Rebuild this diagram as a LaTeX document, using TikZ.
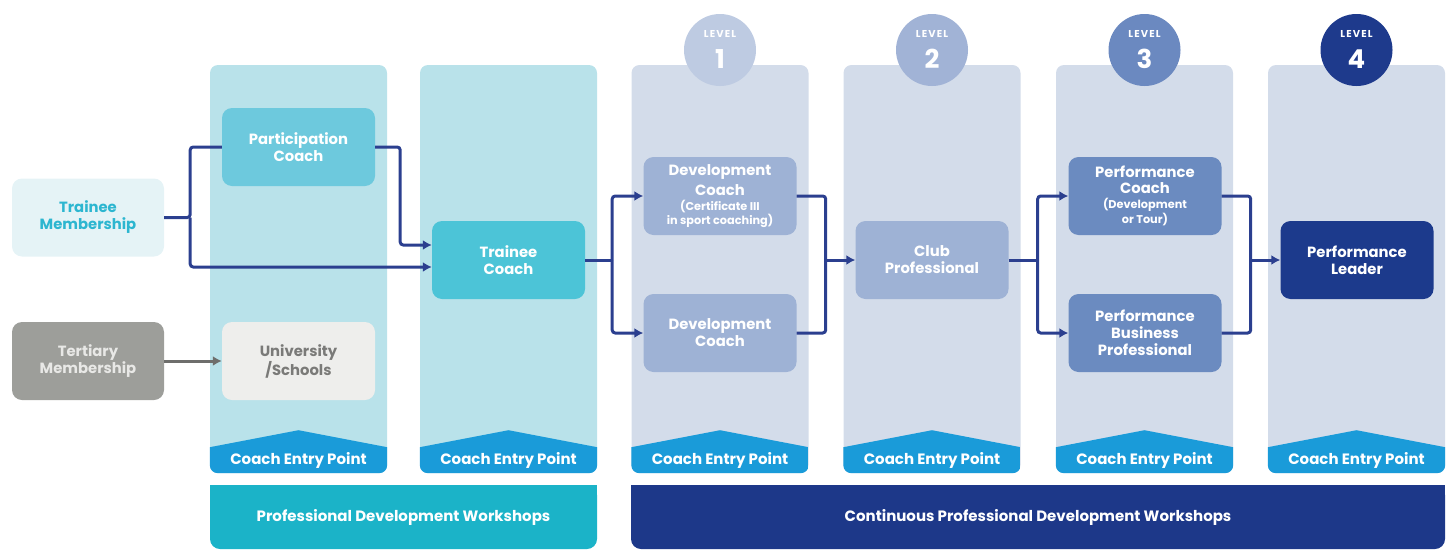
\documentclass[tikz,border=0pt]{standalone}
\usepackage{fontspec}
\setmainfont{Poppins}
\usetikzlibrary{arrows.meta}
\definecolor{colbgA}{HTML}{B9E2EA}
\definecolor{colbgB}{HTML}{D3DCEA}
\definecolor{entry}{HTML}{1A9BD9}
\definecolor{tmfill}{HTML}{E5F3F6}
\definecolor{tmtext}{HTML}{2CB6D0}
\definecolor{tertfill}{HTML}{9D9E9A}
\definecolor{terttext}{HTML}{E8E8E6}
\definecolor{pcfill}{HTML}{6DC9DD}
\definecolor{unifill}{HTML}{EEEEEC}
\definecolor{unitext}{HTML}{7A7A78}
\definecolor{tcfill}{HTML}{4CC4D7}
\definecolor{dcfill}{HTML}{9EB2D5}
\definecolor{perffill}{HTML}{6B8BC0}
\definecolor{leadfill}{HTML}{1C3A8C}
\definecolor{pdw}{HTML}{1BB3C8}
\definecolor{cpdw}{HTML}{1D3889}
\definecolor{connc}{HTML}{2B3F8F}
\definecolor{gconnc}{HTML}{6E6E6C}
\definecolor{lvA}{HTML}{BECBE2}
\definecolor{lvB}{HTML}{A1B3D6}
\definecolor{lvC}{HTML}{6B89C0}
\definecolor{lvD}{HTML}{1E3A8C}
\newcommand{\smtxt}[1]{{\fontsize{11.3}{12}\selectfont #1}}
\tikzset{
  colbox/.style={rectangle, rounded corners=8pt, minimum width=177pt, minimum height=408pt, inner sep=0pt},
  stagebox/.style={rectangle, rounded corners=10pt, minimum width=153pt, minimum height=78pt, align=center, text=white, font=\bfseries\fontsize{14.8}{17}\selectfont, inner sep=2pt},
  tightbox/.style={stagebox, font=\bfseries\fontsize{14.8}{12}\selectfont},
  entrytxt/.style={text=white, font=\bfseries\fontsize{15}{17}\selectfont, inner sep=0pt},
  bartxt/.style={text=white, font=\bfseries\fontsize{15}{17}\selectfont, inner sep=0pt},
  lvlcircle/.style={circle, minimum size=72pt, inner sep=0pt},
  lvlword/.style={text=white, font=\bfseries\fontsize{10}{10}\selectfont\addfontfeatures{LetterSpace=12}, inner sep=0pt},
  lvlnum/.style={text=white, font=\bfseries\fontsize{26}{28}\selectfont, inner sep=0pt},
  conn/.style={draw=connc, line width=3pt, rounded corners=3pt},
  tip/.style={-{Latex[length=9pt,width=10pt]}},
  gconn/.style={draw=gconnc, line width=3pt, -{Latex[length=9pt,width=10pt]}}
}
\begin{document}
\begin{tikzpicture}[x=1pt,y=-1pt]
\useasboundingbox (0,0) rectangle (1453,549);
% columns
\node[colbox, fill=colbgA] (col1) at (298.5,269) {};
\node[colbox, fill=colbgA] (col2) at (508.5,269) {};
\node[colbox, fill=colbgB] (col3) at (720,269) {};
\node[colbox, fill=colbgB] (col4) at (932,269) {};
\node[colbox, fill=colbgB] (col5) at (1144.5,269) {};
\node[colbox, fill=colbgB] (col6) at (1356.5,269) {};
\foreach \c in {col1,col2,col3,col4,col5,col6}{
  \begin{scope}
    \clip[rounded corners=8pt] (\c.south west) rectangle (\c.north east);
    \fill[entry] (\c.south west) -- ([yshift=26pt]\c.south west) -- ([yshift=43pt]\c.south) -- ([yshift=26pt]\c.south east) -- (\c.south east) -- cycle;
  \end{scope}
  \node[entrytxt] (e-\c) at ([yshift=13pt]\c.south) {Coach Entry Point};
}
% level circles
\node[lvlcircle, fill=lvA] (L1) at (720,50) {};
\node[lvlcircle, fill=lvB] (L2) at (932,50) {};
\node[lvlcircle, fill=lvC] (L3) at (1144.5,50) {};
\node[lvlcircle, fill=lvD] (L4) at (1356.5,50) {};
\foreach \l/\n in {L1/1,L2/2,L3/3,L4/4}{
  \node[lvlword] (\l w) at ([yshift=16pt]\l.center) {LEVEL};
  \node[lvlnum] (\l n) at ([yshift=-9pt]\l.center) {\n};
}
% bottom bars
\fill[pdw, rounded corners=10pt] (210,485) rectangle (597,549);
\fill[pdw] (210,485) rectangle (597,510);
\node[bartxt] (pdwt) at (403.5,517) {Professional Development Workshops};
\fill[cpdw, rounded corners=10pt] (631,485) rectangle (1445,549);
\fill[cpdw] (631,485) rectangle (1445,510);
\node[bartxt] (cpdwt) at (1038,517) {Continuous Professional Development Workshops};
% boxes
\node[stagebox, fill=tmfill, text=tmtext, minimum width=152pt] (tm) at (88,217.5) {Trainee\\Membership};
\node[stagebox, fill=tertfill, text=terttext, minimum width=152pt] (tert) at (88,361) {Tertiary\\Membership};
\node[stagebox, fill=pcfill] (pc) at (298.5,147) {Participation\\Coach};
\node[stagebox, fill=unifill, text=unitext] (uni) at (298.5,361) {University\\/Schools};
\node[stagebox, fill=tcfill] (tc) at (508.5,260) {Trainee\\Coach};
\node[tightbox, fill=dcfill] (dc1) at (720,196) {Development\\[4pt]Coach\\[3pt]\smtxt{(Certificate III}\\\smtxt{in sport coaching)}};
\node[stagebox, fill=dcfill] (dc2) at (720,333) {Development\\Coach};
\node[stagebox, fill=dcfill] (club) at (932,260) {Club\\Professional};
\node[tightbox, fill=perffill] (perf) at (1145,196) {Performance\\[4pt]Coach\\[3pt]\smtxt{(Development}\\\smtxt{or Tour)}};
\node[stagebox, fill=perffill] (pbp) at (1145,333) {Performance\\Business\\Professional};
\node[stagebox, fill=leadfill] (lead) at (1357,260) {Performance\\Leader};
% connectors
\draw[conn] (tm.east) -- ++(26,0) coordinate (j1) |- (pc.west);
\draw[conn, tip] (j1) |- ([yshift=-7pt]tc.west);
\draw[conn, tip] (pc.east) -- ++(25,0) |- ([yshift=15pt]tc.west);
\draw[gconn] (tert.east) -- (uni.west);
\draw[conn] (tc.east) -- ++(27,0) coordinate (j2);
\draw[conn, tip] (j2) |- (dc1.west);
\draw[conn, tip] (j2) |- (dc2.west);
\draw[conn] (dc1.east) -- ++(29,0) coordinate (j3) |- (dc2.east);
\draw[conn, tip] (j3 |- club.west) -- (club.west);
\draw[conn] (club.east) -- ++(29,0) coordinate (j4);
\draw[conn, tip] (j4) |- (perf.west);
\draw[conn, tip] (j4) |- (pbp.west);
\draw[conn] (perf.east) -- ++(29,0) coordinate (j5) |- (pbp.east);
\draw[conn, tip] (j5 |- lead.west) -- (lead.west);
\end{tikzpicture}
\end{document}
